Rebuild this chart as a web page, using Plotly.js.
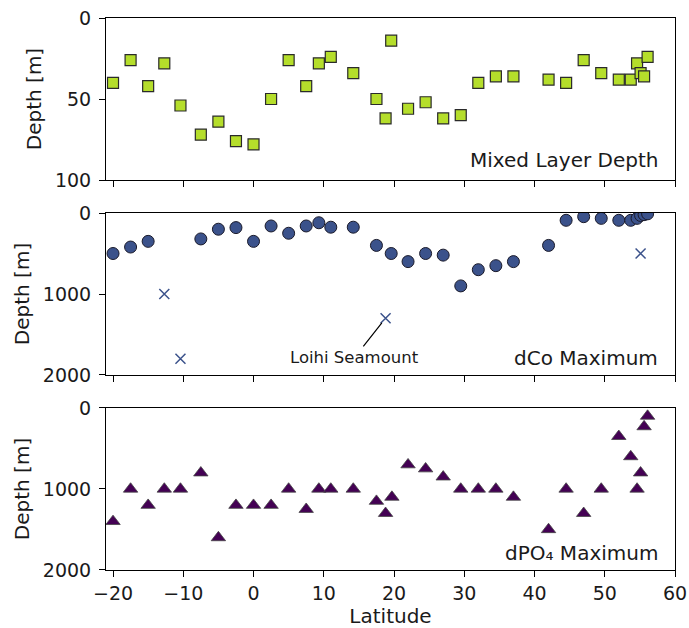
<!DOCTYPE html>
<html>
<head>
<meta charset="utf-8">
<script src="https://cdn.plot.ly/plotly-3.0.1.min.js"></script>
<style>html,body{margin:0;padding:0;background:#fff;}#chart{width:689px;height:628px;}</style>
</head>
<body>
<div id="chart"></div>
<script>
// Mixed layer depth (top panel)
const mldLat = [-20.0,-17.5,-15.0,-12.7,-10.4,-7.5,-5.0,-2.5,0.0,2.5,5.0,7.5,9.3,11.0,14.2,17.5,18.8,19.6,22.0,24.5,27.0,29.5,32.0,34.5,37.0,42.0,44.5,47.0,49.5,52.0,53.7,54.6,55.1,55.6,56.1];
const mldDepth = [40,26,42,28,54,72,64,76,78,50,26,42,28,24,34,50,62,14,56,52,62,60,40,36,36,38,40,26,34,38,38,28,34,36,24];

// dCo maximum (middle panel)
const coLat = [-20.0,-17.5,-15.0,-7.5,-5.0,-2.5,0.0,2.5,5.0,7.5,9.3,11.0,14.2,17.5,19.6,22.0,24.5,27.0,29.5,32.0,34.5,37.0,42.0,44.5,47.0,49.5,52.0,53.7,54.6,55.1,55.6,56.1];
const coDepth = [500,420,350,320,200,180,350,160,250,160,120,175,175,400,500,600,500,520,900,700,650,600,400,90,45,66,90,90,66,30,20,10];
const coXLat = [-12.7,-10.4,18.8,55.1];
const coXDepth = [1000,1800,1300,500];

// dPO4 maximum (bottom panel)
const poLat = [-20.0,-17.5,-15.0,-12.7,-10.4,-7.5,-5.0,-2.5,0.0,2.5,5.0,7.5,9.3,11.0,14.2,17.5,18.8,19.7,22.0,24.5,27.0,29.5,32.0,34.5,37.0,42.0,44.5,47.0,49.5,52.0,53.7,54.6,55.1,55.6,56.1];
const poDepth = [1400,1000,1200,1000,1000,800,1600,1200,1200,1200,1000,1250,1000,1000,1000,1150,1300,1100,700,750,850,1000,1000,1000,1100,1500,1000,1300,1000,350,600,1000,800,230,100];

const xTicks = [-20,-10,0,10,20,30,40,50,60];
const panelLabels = ['Mixed Layer Depth', 'dCo Maximum', 'dPO₄ Maximum'];
const yTitle = 'Depth [m]';
const xTitle = 'Latitude';
const loihiLabel = 'Loihi Seamount';

const FONT = 'DejaVu Sans, sans-serif';
const TXT = '#1a1a1a';

const traces = [
  {x: mldLat, y: mldDepth, xaxis: 'x', yaxis: 'y', mode: 'markers', type: 'scatter',
   marker: {symbol: 'square', size: 11, color: '#b5de2b', line: {color: '#2a2a2a', width: 1.2}}},
  {x: coLat, y: coDepth, xaxis: 'x2', yaxis: 'y2', mode: 'markers', type: 'scatter',
   marker: {symbol: 'circle', size: 12, color: '#3b528b', line: {color: '#1a1a2a', width: 1}}},
  {x: coXLat, y: coXDepth, xaxis: 'x2', yaxis: 'y2', mode: 'markers', type: 'scatter',
   marker: {symbol: 'x-thin-open', size: 10, color: '#3b528b', line: {color: '#3b528b', width: 1.5}}},
  {x: poLat, y: poDepth, xaxis: 'x3', yaxis: 'y3', mode: 'markers', type: 'scatter',
   marker: {symbol: 'triangle-up', size: 12.5, color: '#440154', line: {color: '#444', width: 0.8}}}
];

function xax(anchor, labels, extra) {
  return Object.assign({
    anchor: anchor, range: [-21, 60], tickvals: xTicks, ticks: 'outside', ticklen: 6,
    tickcolor: '#000', showticklabels: labels, showline: true, linecolor: '#000', linewidth: 1,
    mirror: true, showgrid: false, zeroline: false,
    tickfont: {family: FONT, size: 19, color: TXT}
  }, extra || {});
}
function yax(anchor, domain, range, dtick) {
  return {
    anchor: anchor, domain: domain, range: range, dtick: dtick, tick0: 0, ticks: 'outside', ticklen: 6,
    tickcolor: '#000', showline: true, linecolor: '#000', linewidth: 1, mirror: true,
    showgrid: false, zeroline: false, ticklabelstandoff: 4,
    tickfont: {family: FONT, size: 19, color: TXT},
    title: {text: yTitle, font: {family: FONT, size: 20, color: TXT}, standoff: 7}
  };
}

const layout = {
  width: 689, height: 628,
  margin: {l: 106, r: 14, t: 18, b: 58},
  paper_bgcolor: '#fff', plot_bgcolor: '#fff',
  showlegend: false,
  font: {family: FONT, color: TXT},
  xaxis: xax('y', false, {matches: 'x3'}),
  xaxis2: xax('y2', false, {matches: 'x3'}),
  xaxis3: xax('y3', true, {title: {text: xTitle, font: {family: FONT, size: 20, color: TXT}, standoff: 7}}),
  yaxis: yax('x', [0.7065, 1], [100, 0], 50),
  yaxis2: yax('x2', [0.3533, 0.6467], [2000, 0], 1000),
  yaxis3: yax('x3', [0, 0.2935], [2000, 0], 1000),
  annotations: [
    {xref: 'paper', yref: 'paper', x: 0.974, y: 0.7428, xanchor: 'right', yanchor: 'middle',
     text: panelLabels[0], showarrow: false, font: {family: FONT, size: 20, color: TXT}},
    {xref: 'paper', yref: 'paper', x: 0.974, y: 0.3841, xanchor: 'right', yanchor: 'middle',
     text: panelLabels[1], showarrow: false, font: {family: FONT, size: 20, color: TXT}},
    {xref: 'paper', yref: 'paper', x: 0.974, y: 0.0308, xanchor: 'right', yanchor: 'middle',
     text: panelLabels[2], showarrow: false, font: {family: FONT, size: 20, color: TXT}},
    {xref: 'x2', yref: 'y2', x: coXLat[2], y: coXDepth[2], text: loihiLabel,
     showarrow: true, arrowhead: 0, arrowwidth: 1.2, arrowcolor: '#000', standoff: 6,
     ax: -31, ay: 39, font: {family: FONT, size: 16.5, color: TXT}}
  ]
};

Plotly.newPlot('chart', traces, layout, {displayModeBar: false, staticPlot: true});
</script>
</body>
</html>
